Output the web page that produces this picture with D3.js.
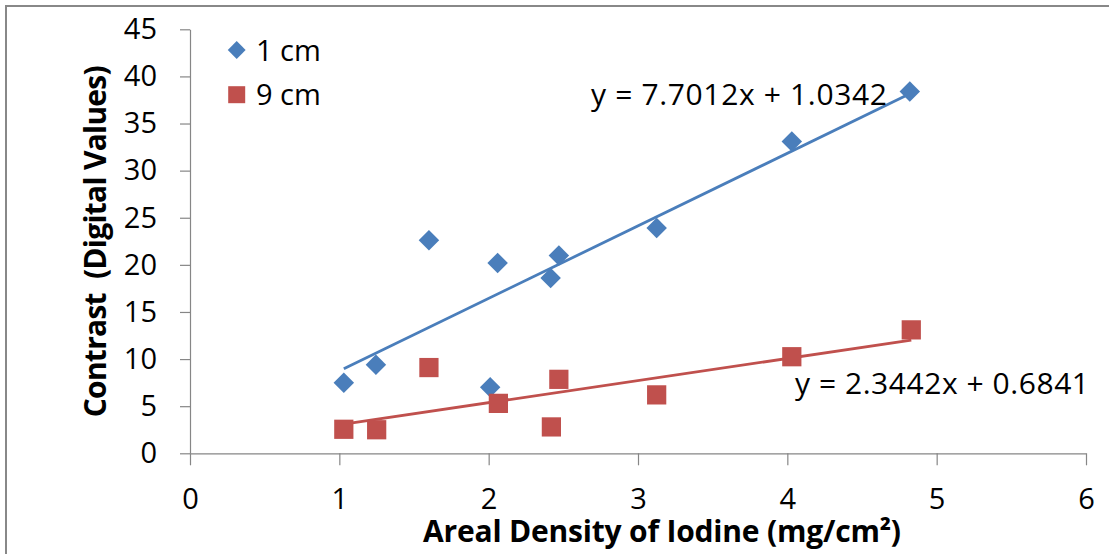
<!DOCTYPE html>
<html><head><meta charset="utf-8">
<script src="https://cdn.jsdelivr.net/npm/d3@7"></script>
<style>body{margin:0;background:#fff} svg{display:block}</style>
</head><body>
<svg id="chart" width="1109" height="554"></svg>
<script>
// ---- data ----
const xTicks = [0, 1, 2, 3, 4, 5, 6];
const yTicks = [0, 5, 10, 15, 20, 25, 30, 35, 40, 45];
const seriesNames = ["1 cm", "9 cm"];
const x1cm = [1.03, 1.245, 1.60, 2.06, 2.01, 2.415, 2.47, 3.125, 4.03, 4.82];
const y1cm = [7.5, 9.4, 22.6, 20.2, 7.0, 18.6, 21.0, 23.9, 33.1, 38.4];
const x9cm = [1.03, 1.25, 1.60, 2.065, 2.42, 2.47, 3.125, 4.03, 4.83];
const y9cm = [2.55, 2.5, 9.1, 5.3, 2.8, 7.85, 6.2, 10.25, 13.1];
const fitSlopes = [7.7012, 2.3442];
const fitIntercepts = [1.0342, 0.6841];
const eqLabels = ["y = 7.7012x + 1.0342", "y = 2.3442x + 0.6841"];
const xTitle = "Areal Density of Iodine (mg/cm\u00B2)";
const yTitle = "Contrast  (Digital Values)";

// ---- styles ----
const blue = "#4A7EBB", red = "#C0504D", axisCol = "#868686";
const font = "'Open Sans', 'DejaVu Sans', sans-serif";

const svg = d3.select("#chart");
svg.append("rect").attr("x", 6).attr("y", 6).attr("width", 1200).attr("height", 600)
  .attr("fill", "#fff").attr("stroke", "#888").attr("stroke-width", 2);

const x = d3.scaleLinear().domain([0, 6]).range([190, 1086]);
const y = d3.scaleLinear().domain([0, 45]).range([453.3, 29.3]);

// axes
const yAxis = svg.append("g").attr("transform", `translate(${x(0)},0)`)
  .call(d3.axisLeft(y).tickValues(yTicks).tickFormat(d3.format("d"))
    .tickSize(10).tickSizeOuter(0).tickPadding(23));
const xAxis = svg.append("g").attr("transform", `translate(0,${y(0)})`)
  .call(d3.axisBottom(x).tickValues(xTicks).tickFormat(d3.format("d"))
    .tickSize(12).tickSizeOuter(0).tickPadding(23));
[xAxis, yAxis].forEach(g => {
  g.selectAll("path.domain").attr("stroke", axisCol).attr("stroke-width", 1.2);
  g.selectAll(".tick line").attr("stroke", axisCol).attr("stroke-width", 1.2);
  g.selectAll(".tick text").attr("fill", "#000").attr("font-family", font).attr("font-size", 29);
});

// trendlines
const series = [
  {xs: x1cm, ys: y1cm, color: blue, shape: "diamond"},
  {xs: x9cm, ys: y9cm, color: red, shape: "square"}
];
series.forEach((s, i) => {
  const x0 = d3.min(s.xs), xN = d3.max(s.xs);
  svg.append("line")
    .attr("x1", x(x0)).attr("y1", y(fitSlopes[i] * x0 + fitIntercepts[i]))
    .attr("x2", x(xN)).attr("y2", y(fitSlopes[i] * xN + fitIntercepts[i]))
    .attr("stroke", s.color).attr("stroke-width", 2.8);
});

// markers
const diamond = d3.symbol(d3.symbolSquare, 210)();
const square = d3.symbol(d3.symbolSquare, 370)();
series.forEach(s => {
  svg.append("g").selectAll("path").data(s.xs.map((v, j) => [v, s.ys[j]])).join("path")
    .attr("d", s.shape === "diamond" ? diamond : square)
    .attr("transform", d => `translate(${x(d[0])},${y(d[1])})` + (s.shape === "diamond" ? " rotate(45)" : ""))
    .attr("fill", s.color);
});

// legend
const lgDiamond = d3.symbol(d3.symbolSquare, 160)();
const lgSquare = d3.symbol(d3.symbolSquare, 289)();
svg.append("path").attr("d", lgDiamond).attr("transform", "translate(236.7,50) rotate(45)").attr("fill", blue);
svg.append("path").attr("d", lgSquare).attr("transform", "translate(236.7,94.7)").attr("fill", red);
svg.append("text").attr("x", 256).attr("y", 60.5).text(seriesNames[0])
  .attr("font-family", font).attr("font-size", 29).attr("fill", "#000");
svg.append("text").attr("x", 256).attr("y", 105).text(seriesNames[1])
  .attr("font-family", font).attr("font-size", 29).attr("fill", "#000");

// equations
svg.append("text").attr("x", 591).attr("y", 105).text(eqLabels[0])
  .attr("font-family", font).attr("font-size", 30).attr("fill", "#000")
  .attr("textLength", 296).attr("lengthAdjust", "spacing");
svg.append("text").attr("x", 795).attr("y", 394).text(eqLabels[1])
  .attr("font-family", font).attr("font-size", 30).attr("fill", "#000")
  .attr("textLength", 294).attr("lengthAdjust", "spacing");

// axis titles
svg.append("text").attr("x", 423).attr("y", 541.5).text(xTitle)
  .attr("font-family", font).attr("font-weight", "bold").attr("font-size", 30).attr("fill", "#000")
  .attr("textLength", 478).attr("lengthAdjust", "spacing");
svg.append("text").attr("transform", `translate(106,${(y(0) + y(45)) / 2}) rotate(-90)`)
  .attr("text-anchor", "middle").text(yTitle).style("white-space", "pre")
  .attr("font-family", font).attr("font-weight", "bold").attr("font-size", 30).attr("fill", "#000")
  .attr("textLength", 352).attr("lengthAdjust", "spacing");
</script>
</body></html>
